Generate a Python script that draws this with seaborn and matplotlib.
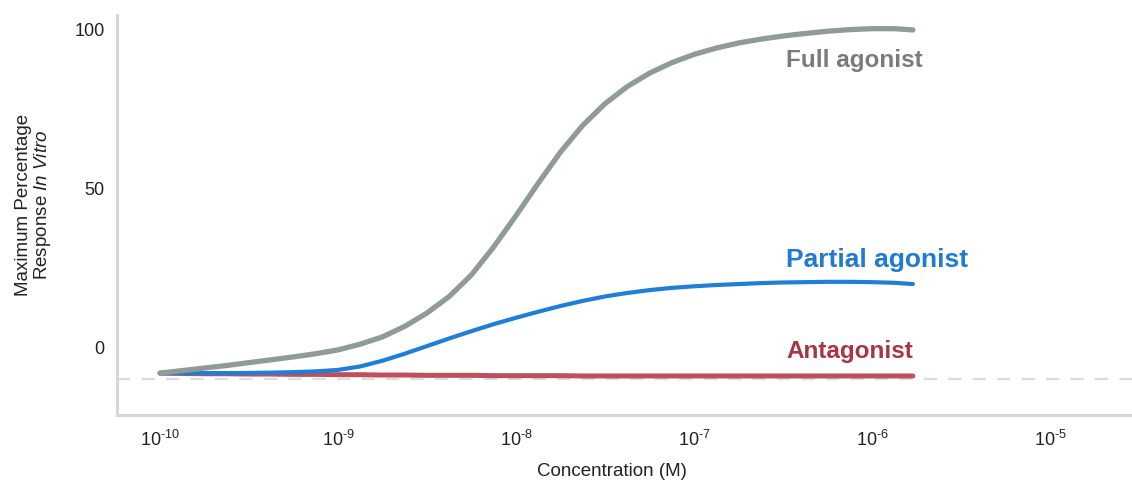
import matplotlib
matplotlib.use("Agg")
import matplotlib.pyplot as plt
import numpy as np
import pandas as pd
import seaborn as sns
from matplotlib.ticker import FixedLocator, FixedFormatter

# ---- data ----
log_conc = [-10.0, -9.875, -9.75, -9.625, -9.5, -9.375, -9.25, -9.125, -9.0,
            -8.875, -8.75, -8.625, -8.5, -8.375, -8.25, -8.125, -8.0,
            -7.875, -7.75, -7.625, -7.5, -7.375, -7.25, -7.125, -7.0,
            -6.875, -6.75, -6.625, -6.5, -6.375, -6.25, -6.125, -6.0,
            -5.875, -5.77]
full_agonist = [-7.9, -7.1, -6.3, -5.5, -4.6, -3.7, -2.8, -1.8, -0.6,
                1.2, 3.5, 6.8, 11.0, 16.2, 23.0, 31.8, 41.6,
                51.8, 61.6, 70.0, 76.8, 82.2, 86.4, 89.7, 92.3,
                94.3, 95.9, 97.1, 98.1, 98.9, 99.6, 100.1, 100.4,
                100.4, 100.0]
partial_agonist = [-7.9, -7.9, -7.9, -7.9, -7.85, -7.75, -7.6, -7.35, -6.9,
                   -5.8, -4.0, -1.8, 0.6, 3.0, 5.3, 7.5, 9.5,
                   11.4, 13.2, 14.8, 16.2, 17.3, 18.2, 18.9, 19.4,
                   19.8, 20.1, 20.4, 20.6, 20.7, 20.8, 20.8, 20.7,
                   20.5, 20.1]
antagonist = [-7.9, -8.0, -8.1, -8.1, -8.2, -8.2, -8.3, -8.3, -8.4,
              -8.4, -8.5, -8.5, -8.6, -8.6, -8.6, -8.7, -8.7,
              -8.7, -8.7, -8.8, -8.8, -8.8, -8.8, -8.8, -8.8,
              -8.8, -8.8, -8.8, -8.8, -8.8, -8.8, -8.8, -8.8,
              -8.8, -8.8]
baseline_value = -9.7

series_names = ["Full agonist", "Partial agonist", "Antagonist"]
x_tick_exponents = [-10, -9, -8, -7, -6, -5]
y_ticks = [0, 50, 100]

conc = [10.0 ** v for v in log_conc]
df = pd.DataFrame({
    "conc": conc * 3,
    "resp": full_agonist + partial_agonist + antagonist,
    "series": sum([[n] * len(conc) for n in series_names], []),
})

# ---- style ----
sns.set_theme(style="white")
plt.rcParams["font.family"] = ["Liberation Sans", "DejaVu Sans"]
plt.rcParams["mathtext.fontset"] = "custom"
plt.rcParams["mathtext.rm"] = "Liberation Sans"
plt.rcParams["mathtext.it"] = "Liberation Sans:italic"
plt.rcParams["mathtext.bf"] = "Liberation Sans:bold"
plt.rcParams["mathtext.default"] = "regular"

line_colors = {"Full agonist": "#8e9c93", "Partial agonist": "#1f7fd8",
               "Antagonist": "#bf4f5d"}
text_colors = {"Full agonist": "#7b7b7b", "Partial agonist": "#1f7ad4",
               "Antagonist": "#a83446"}
line_widths = {"Full agonist": 3.8, "Partial agonist": 3.0, "Antagonist": 3.6}

W, H = 1132, 486
fig = plt.figure(figsize=(W / 100, H / 100), dpi=100)
ax = fig.add_axes([117 / W, 1 - 415 / H, 1015 / W, 400 / H])

ax.axhline(baseline_value, color="#dcdcdc", lw=1.6, ls=(0, (6, 5)), zorder=1)

for name in ["Antagonist", "Partial agonist", "Full agonist"]:
    sub = df[df["series"] == name]
    sns.lineplot(data=sub, x="conc", y="resp", ax=ax, color=line_colors[name],
                 lw=line_widths[name], solid_capstyle="round",
                 solid_joinstyle="round", zorder=3, legend=False, errorbar=None)

ax.set_xscale("log")
ax.set_xlim(10 ** -10.2416, 10 ** -4.539)
ax.set_ylim(-21.07, 104.7)

ax.xaxis.set_major_locator(FixedLocator([10.0 ** e for e in x_tick_exponents]))
ax.xaxis.set_major_formatter(FixedFormatter([r"$10^{\text{%d}}$" % e for e in x_tick_exponents]))
ax.xaxis.set_minor_locator(FixedLocator([]))
ax.set_yticks(y_ticks)
ax.set_yticklabels([str(v) for v in y_ticks])
ax.tick_params(axis="x", length=0, pad=11, labelsize=13, colors="#222222")
ax.tick_params(axis="y", length=0, pad=9, labelsize=13, colors="#222222")

for side in ["top", "right"]:
    ax.spines[side].set_visible(False)
for side in ["left", "bottom"]:
    ax.spines[side].set_color("#d6d6d6")
    ax.spines[side].set_linewidth(2.2)

ax.set_xlabel("Concentration (M)", fontsize=13.5, color="#222222")
ax.xaxis.set_label_coords((612 - 117) / 1015, -0.12)
ax.set_ylabel("Maximum Percentage\nResponse $\\it{In\\ Vitro}$",
              fontsize=13.5, color="#222222", linespacing=1.0)
ax.yaxis.set_label_coords((53 - 117) / 1015, 0.525)

label_pos = {"Full agonist": 88.4, "Partial agonist": 25.5, "Antagonist": -3.1}
label_size = {"Full agonist": 17.5, "Partial agonist": 19, "Antagonist": 17.5}
for name in series_names:
    ax.text(10 ** -6.483, label_pos[name], name, ha="left", va="baseline",
            fontsize=label_size[name], fontweight="bold", color=text_colors[name])

fig.savefig("out.png", dpi=100)
